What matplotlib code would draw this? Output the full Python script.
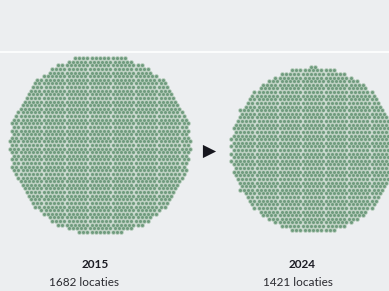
import numpy as np
import matplotlib
matplotlib.use("Agg")
import matplotlib.pyplot as plt

# gegevens
years = ["2015", "2024"]
locaties = [1682, 1421]
centers = [(100, 145), (313, 150)]   # middelpunt per cirkel (pixels)

W, H = 389, 291
BG = "#eceef0"
DOT = "#6f9b7e"
GAP = "#b2cab8"
SPACING = 4.18   # afstand tussen stippen (px)


def hex_dots(n, cx, cy, d=SPACING):
    """De n punten van een hexagonaal rooster die het dichtst bij (cx, cy) liggen."""
    dy = d * np.sqrt(3) / 2
    k = int(np.sqrt(n) * 1.2) + 4
    pts = []
    for j in range(-k, k + 1):
        off = (d / 2) if j % 2 else 0.0
        for i in range(-k, k + 1):
            pts.append((i * d + off, j * dy))
    pts = np.array(pts)
    dist = np.hypot(pts[:, 0], pts[:, 1])
    keep = pts[np.argsort(dist, kind="stable")[:n]]
    return keep[:, 0] + cx, keep[:, 1] + cy


fig = plt.figure(figsize=(W / 100, H / 100), dpi=100, facecolor=BG)
ax = fig.add_axes([0, 0, 1, 1])
ax.set_facecolor(BG)
ax.set_xlim(0, W)
ax.set_ylim(H, 0)
ax.axis("off")

# dunne witte lijn bovenaan
ax.plot([0, W], [52, 52], color="white", lw=1.2)

label_x = [(95, 84), (302, 298)]   # (jaar, aantal) tekstpositie
for year, n, (cx, cy), (xy, xn) in zip(years, locaties, centers, label_x):
    x, y = hex_dots(n, cx, cy)
    ax.scatter(x, y, s=11, color=GAP, linewidths=0)
    ax.scatter(x, y, s=4.6, color=DOT, linewidths=0)
    ax.text(xy, 264, year, ha="center", va="center", fontsize=8.5,
            fontweight="bold", family="Lato", color="#1c1c24")
    ax.text(xn, 283, f"{n} locaties", ha="center", va="center",
            fontsize=8.5, family="Lato", color="#2a2a30")

# pijltje tussen de cirkels
ax.scatter([209], [151], marker=">", s=90, color="#16161e", linewidths=0)

fig.savefig("out.png", dpi=100, facecolor=BG)
